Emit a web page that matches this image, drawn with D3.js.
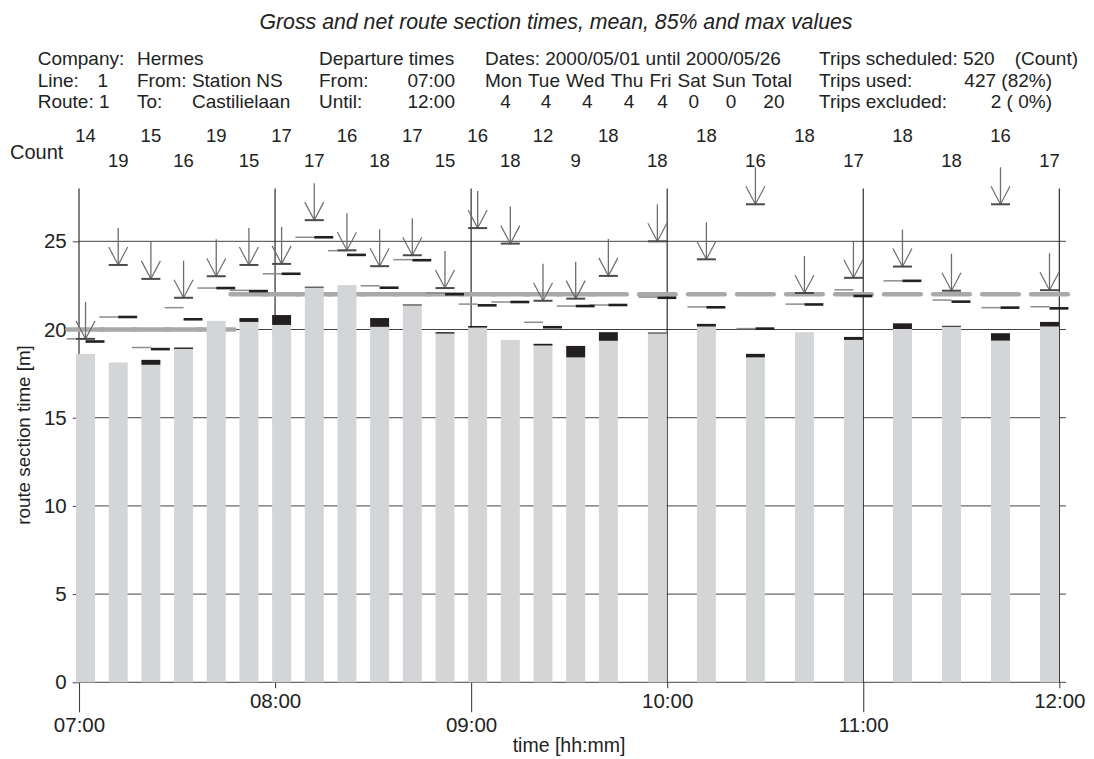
<!DOCTYPE html>
<html>
<head>
<meta charset="utf-8">
<script src="https://cdn.jsdelivr.net/npm/d3@7"></script>
<style>
  body { margin: 0; background: #fff; }
  svg { font-family: "Liberation Sans", Arial, Helvetica, sans-serif; fill: #222; }
  text { white-space: pre; }
</style>
</head>
<body>
<div id="chart"></div>
<script>
// departures (one bar each)
var departures = ['07:02','07:12','07:22','07:32','07:42','07:52','08:02','08:12','08:22','08:32',
                  '08:42','08:52','09:02','09:12','09:22','09:32','09:42','09:57','10:12','10:27',
                  '10:42','10:57','11:12','11:27','11:42','11:57'];
var counts    = [14,19,15,16,19,15,17,17,16,18,17,15,16,18,12,9,18,18,18,16,18,17,18,18,16,17];
// mean values [m]
var netMean   = [18.62,18.13,18.00,18.90,20.49,20.43,20.26,22.38,22.52,20.15,21.37,19.77,20.11,
                 19.41,19.09,18.42,19.36,19.79,20.17,18.42,19.85,19.41,20.03,20.17,19.37,20.17];
var grossMean = [18.62,18.13,18.28,18.98,20.49,20.65,20.82,22.43,22.52,20.65,21.42,19.85,20.20,
                 19.41,19.19,19.07,19.85,19.83,20.32,18.62,19.85,19.58,20.35,20.21,19.79,20.43];
// 85% values [m]
var gross85   = [19.47,20.71,18.98,21.24,22.35,22.22,23.16,25.23,24.47,22.48,23.96,22.07,21.44,
                 21.56,20.41,21.33,21.39,21.84,21.28,20.05,21.44,22.25,22.76,21.67,21.24,21.29];
var net85     = [19.32,20.71,18.89,20.58,22.35,22.18,23.16,25.23,24.23,22.37,23.93,22.00,21.37,
                 21.56,20.13,21.33,21.39,21.80,21.26,20.05,21.42,21.90,22.76,21.58,21.24,21.20];
// max values [m]
var maxTime   = [19.47,23.66,22.87,21.80,23.02,23.66,23.72,26.20,24.49,23.59,24.21,22.35,25.75,
                 24.87,21.63,21.75,23.04,25.00,23.98,27.10,22.07,22.93,23.57,22.20,27.10,22.23];
// scheduled time [m]
var scheduled = [20,20,20,20,20,22,22,22,22,22,22,22,22,22,22,22,22,22,22,22,22,22,22,22,22,22];

var hourTicks = ['07:00','08:00','09:00','10:00','11:00','12:00'];
var yTicks = [0,5,10,15,20,25];

var W = 1094, H = 759;
var parse = d3.timeParse('%H:%M');
var off = function(t, m){ return d3.timeSecond.offset(t, Math.round(m*60)); };

var data = departures.map(function(d,i){
    return {t: parse(d), count: counts[i], net: netMean[i], gross: grossMean[i],
            g85: gross85[i], n85: net85[i], max: maxTime[i], sched: scheduled[i], i: i};
});

var x = d3.scaleTime().domain([parse(hourTicks[0]), parse(hourTicks[5])]).range([79, 1059.3]);
var y = d3.scaleLinear().domain([0, 28]).range([682.3, 188.4]);

var svg = d3.select('#chart').append('svg').attr('width', W).attr('height', H);

// title
svg.append('text').attr('x', 556).attr('y', 29).attr('text-anchor','middle')
    .attr('font-size', 21.3).attr('font-style','italic').text('Gross and net route section times, mean, 85% and max values');

// header block
var hdr = svg.append('g').attr('font-size', 19);
var rows = [65, 86.7, 108.4];
function ht(xx, row, s, anchor){
    return hdr.append('text').attr('x', xx).attr('y', rows[row]).attr('text-anchor', anchor || 'start').text(s);
}
ht(37.7,0,'Company:'); ht(137,0,'Hermes');
ht(37.7,1,'Line:'); ht(108,1,'1','end'); ht(137,1,'From: Station NS');
ht(37.7,2,'Route: 1'); ht(137,2,'To:'); ht(192,2,'Castilielaan');
ht(319,0,'Departure times');
ht(319,1,'From:'); ht(455,1,'07:00','end');
ht(319,2,'Until:'); ht(455,2,'12:00','end');
ht(485,0,'Dates: 2000/05/01 until 2000/05/26');
var days = ['Mon','Tue','Wed','Thu','Fri','Sat','Sun','Total'];
var dayCounts = [4,4,4,4,4,0,0,20];
// spread the day names over 485..792
var dayNodes = days.map(function(dn){ return ht(0, 1, dn); });
var widths = dayNodes.map(function(n){ return n.node().getComputedTextLength(); });
var gap = (792 - 485 - d3.sum(widths)) / (days.length - 1);
var cx = 485;
dayNodes.forEach(function(n, k){
    n.attr('x', cx);
    ht(cx + widths[k]/2 + 2, 2, String(dayCounts[k]), 'middle');
    cx += widths[k] + gap;
});
ht(819,0,'Trips scheduled: 520'); ht(1078,0,'(Count)','end');
ht(819,1,'Trips used:'); ht(1052,1,'427 (82%)','end');
ht(819,2,'Trips excluded:'); ht(1052,2,'2 ( 0%)','end');

// grid
var grid = svg.append('g');
grid.selectAll('line.h').data(yTicks).enter().append('line')
    .attr('x1', 79).attr('x2', 1066)
    .attr('y1', function(d){ return y(d); }).attr('y2', function(d){ return y(d); })
    .attr('stroke', '#444').attr('stroke-width', 1);
grid.selectAll('line.v').data(hourTicks).enter().append('line')
    .attr('x1', function(d){ return x(parse(d)); }).attr('x2', function(d){ return x(parse(d)); })
    .attr('y1', y(28)).attr('y2', y(0))
    .attr('stroke', '#1a1a1a').attr('stroke-width', 1.1);

// y axis
var yAxis = svg.append('g').attr('transform','translate(79,0)')
    .call(d3.axisLeft(y).tickValues(yTicks).tickSize(6.3).tickPadding(6));
yAxis.select('.domain').remove();
yAxis.selectAll('line').attr('stroke','#444');
yAxis.selectAll('text').attr('font-size', 20.5).attr('fill','#222').attr('font-family', null);

// x axis, alternating labels
var xAxis = svg.append('g').attr('transform','translate(0,' + y(0) + ')')
    .call(d3.axisBottom(x).tickValues(hourTicks.map(parse)).tickFormat(d3.timeFormat('%H:%M')).tickSize(0));
xAxis.select('.domain').remove();
xAxis.selectAll('.tick line').attr('stroke','#444').attr('stroke-width',1.1)
    .attr('y2', function(d,i){ return i % 2 === 0 ? 30 : 6; });
xAxis.selectAll('.tick text').attr('font-size', 20.5).attr('fill','#222').attr('font-family', null)
    .attr('dy', null).attr('y', function(d,i){ return i % 2 === 0 ? 50 : 26; });

// axis titles
svg.append('text').attr('x', 569).attr('y', 752).attr('text-anchor','middle').attr('font-size', 19.5).text('time [hh:mm]');
svg.append('text').attr('transform','translate(30,435) rotate(-90)').attr('text-anchor','middle')
    .attr('font-size', 18.8).text('route section time [m]');

// scheduled time segments
svg.append('g').selectAll('line').data(data).enter().append('line')
    .attr('x1', function(d){ return x(off(d.t,-5.6)); }).attr('x2', function(d){ return x(off(d.t,5.6)); })
    .attr('y1', function(d){ return y(d.sched); }).attr('y2', function(d){ return y(d.sched); })
    .attr('stroke','#a9a9a9').attr('stroke-width', 4.5).attr('stroke-linecap','round');

// bars: net mean (grey) and gross extra (black)
var bars = svg.append('g');
bars.selectAll('rect.net').data(data).enter().append('rect')
    .attr('x', function(d){ return x(off(d.t,-2.9)); })
    .attr('width', function(d){ return x(off(d.t,2.9)) - x(off(d.t,-2.9)); })
    .attr('y', function(d){ return y(d.net); })
    .attr('height', function(d){ return y(0) - y(d.net); })
    .attr('fill','#d4d5d7');
bars.selectAll('rect.gross').data(data.filter(function(d){ return d.gross > d.net; })).enter().append('rect')
    .attr('x', function(d){ return x(off(d.t,-2.9)); })
    .attr('width', function(d){ return x(off(d.t,2.9)) - x(off(d.t,-2.9)); })
    .attr('y', function(d){ return y(d.gross); })
    .attr('height', function(d){ return Math.max(1, y(d.net) - y(d.gross)); })
    .attr('fill','#231f20');

// 85% lines
var p85 = svg.append('g');
p85.selectAll('line.g').data(data).enter().append('line')
    .attr('x1', function(d){ return x(off(d.t,-5.8)); }).attr('x2', function(d){ return x(d.t); })
    .attr('y1', function(d){ return y(d.g85); }).attr('y2', function(d){ return y(d.g85); })
    .attr('stroke','#8c8c8c').attr('stroke-width', 1.5);
p85.selectAll('line.n').data(data).enter().append('line')
    .attr('x1', function(d){ return x(d.t); }).attr('x2', function(d){ return x(off(d.t,5.8)); })
    .attr('y1', function(d){ return y(d.n85); }).attr('y2', function(d){ return y(d.n85); })
    .attr('stroke','#231f20').attr('stroke-width', 2.6);

// max arrows
var arrows = svg.append('g').selectAll('g').data(data).enter().append('g')
    .attr('transform', function(d){ return 'translate(' + x(d.t) + ',' + y(d.max) + ')'; });
arrows.append('line').attr('x1',0).attr('x2',0).attr('y1',-37).attr('y2',0)
    .attr('stroke','#6e6e6e').attr('stroke-width',1.3);
arrows.append('path').attr('d','M-9.5,-18L0,0L9.5,-18').attr('fill','none')
    .attr('stroke','#6e6e6e').attr('stroke-width',1.2);
arrows.append('line').attr('x1',-9.5).attr('x2',9.5).attr('y1',0).attr('y2',0)
    .attr('stroke','#4a4a4a').attr('stroke-width',2);

// counts
svg.append('text').attr('x', 10).attr('y', 159).attr('font-size', 20).text('Count');
svg.append('g').selectAll('text').data(data).enter().append('text')
    .attr('x', function(d){ return x(d.t); })
    .attr('y', function(d){ return d.i % 2 === 0 ? 141.7 : 166.7; })
    .attr('text-anchor','middle').attr('font-size', 18.5)
    .text(function(d){ return d.count; });
</script>
</body>
</html>
